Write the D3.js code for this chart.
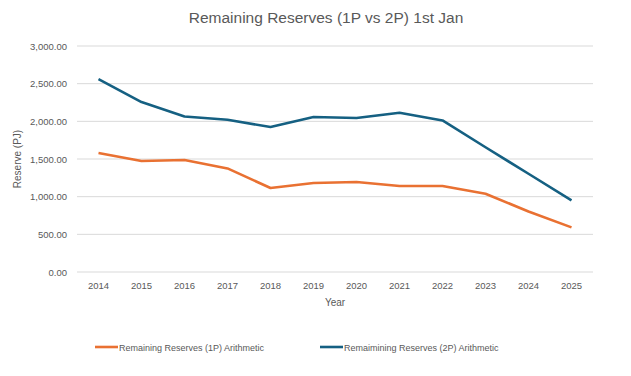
<!DOCTYPE html>
<html>
<head>
<meta charset="utf-8">
<script src="https://cdn.jsdelivr.net/npm/d3@7"></script>
<style>
  body { margin: 0; background: #fff; }
  svg { font-family: "Liberation Sans", Arial, sans-serif; }
</style>
</head>
<body>
<svg width="631" height="376"></svg>
<script>
var years = ['2014', '2015', '2016', '2017', '2018', '2019', '2020', '2021', '2022', '2023', '2024', '2025'];
var reserves1P = [1579, 1473, 1486, 1375, 1115, 1181, 1194, 1141, 1141, 1039, 804, 592];
var reserves2P = [2561, 2256, 2065, 2021, 1924, 2057, 2044, 2114, 2012, 1656, 1304, 950];
var yTicks = [0, 500, 1000, 1500, 2000, 2500, 3000];
var seriesNames = ['Remaining Reserves (1P) Arithmetic', 'Remaimining Reserves (2P) Arithmetic'];
var colors = ['#E97132', '#156082'];

var svg = d3.select('svg'),
    margin = { top: 46, right: 38, bottom: 104, left: 77 },
    width = 631 - margin.left - margin.right,
    height = 376 - margin.top - margin.bottom;

var g = svg.append("g").attr("transform", `translate(${margin.left},${margin.top})`);

var xScale = d3.scaleBand().domain(years).range([0, width]);
var yScale = d3.scaleLinear().domain([0, 3000]).range([height, 0]);

// gridlines
g.selectAll(".grid")
    .data(yTicks)
    .enter().append("line")
    .attr("x1", 0).attr("x2", width)
    .attr("y1", d => yScale(d)).attr("y2", d => yScale(d))
    .attr("stroke", "#d9d9d9").attr("stroke-width", 1);

// y axis labels
var yAxis = d3.axisLeft(yScale).tickValues(yTicks).tickSize(0).tickPadding(10)
    .tickFormat(d => d3.format(",.2f")(d));
g.append("g").call(yAxis)
    .call(s => s.select(".domain").remove())
    .selectAll("text").attr("fill", "#595959").style("font-size", "9.5px");

// x axis labels
var xAxis = d3.axisBottom(xScale).tickSize(0).tickPadding(10);
g.append("g").attr("transform", `translate(0,${height})`).call(xAxis)
    .call(s => s.select(".domain").remove())
    .selectAll("text").attr("fill", "#595959").style("font-size", "9.5px");

var line = d3.line()
    .x((d, i) => xScale(years[i]) + xScale.bandwidth() / 2)
    .y(d => yScale(d));

[reserves1P, reserves2P].forEach(function (data, i) {
    g.append("path")
        .datum(data)
        .attr("fill", "none")
        .attr("stroke", colors[i])
        .attr("stroke-width", 2.6)
        .attr("stroke-linejoin", "round")
        .attr("d", line);
});

// title
svg.append("text")
    .attr("x", 326).attr("y", 23)
    .attr("text-anchor", "middle")
    .attr("fill", "#595959")
    .style("font-size", "15.5px")
    .text("Remaining Reserves (1P vs 2P) 1st Jan");

// axis titles
svg.append("text")
    .attr("transform", "translate(21,159) rotate(-90)")
    .attr("text-anchor", "middle")
    .attr("fill", "#595959")
    .style("font-size", "10px")
    .text("Reserve (PJ)");

svg.append("text")
    .attr("x", margin.left + width / 2).attr("y", 306)
    .attr("text-anchor", "middle")
    .attr("fill", "#595959")
    .style("font-size", "10px")
    .text("Year");

// legend
var legendX = [95, 320];
seriesNames.forEach(function (name, i) {
    var lg = svg.append("g").attr("transform", `translate(${legendX[i]},347)`);
    lg.append("line").attr("x1", 0).attr("x2", 23).attr("y1", 0).attr("y2", 0)
        .attr("stroke", colors[i]).attr("stroke-width", 2.6);
    lg.append("text").attr("x", 24).attr("y", 3.5)
        .attr("fill", "#595959").style("font-size", "9px")
        .text(name);
});
</script>
</body>
</html>
